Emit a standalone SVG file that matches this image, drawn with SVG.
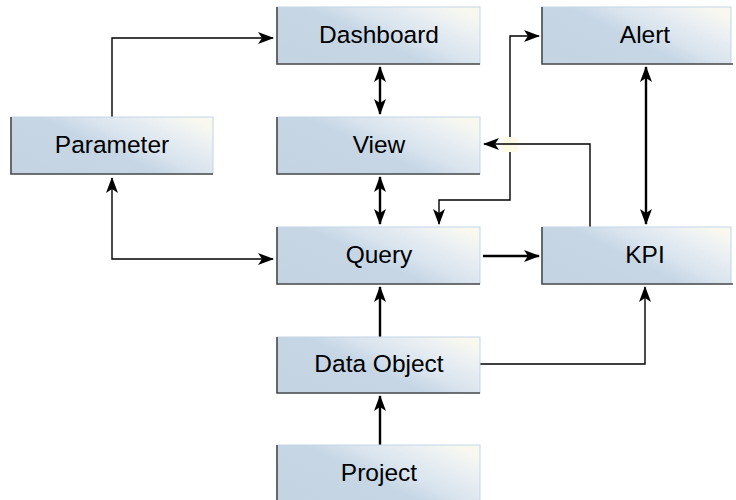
<svg xmlns="http://www.w3.org/2000/svg" width="736" height="500" viewBox="0 0 736 500">
<defs>
<linearGradient id="g" x1="0" y1="0.8" x2="1" y2="0.2">
<stop offset="0" stop-color="#c4d4e3"/>
<stop offset="0.45" stop-color="#c6d6e5"/>
<stop offset="0.62" stop-color="#d9e4ee"/>
<stop offset="0.85" stop-color="#ebf0f3"/>
<stop offset="1" stop-color="#f8f8ef"/>
</linearGradient>
<marker id="ah" viewBox="0 0 16 12" refX="15" refY="6" markerWidth="16" markerHeight="12" markerUnits="userSpaceOnUse" orient="auto-start-reverse">
<path d="M0,0 L16,6 L0,12 L4,6 Z" fill="#000"/>
</marker>
</defs>
<style>
.box{fill:url(#g);stroke:#c3d5e7;stroke-width:1}
.sh{fill:none;stroke:#4a4a4a;stroke-width:1.6}
.lbl{font-family:"Liberation Sans",Arial,sans-serif;font-size:24.5px;fill:#000;text-anchor:middle}
.thin{fill:none;stroke:#000;stroke-width:1.4}
.thick{fill:none;stroke:#000;stroke-width:2.4}
</style>
<rect width="736" height="500" fill="#fff"/>

<g id="connectors">
<path class="thin" d="M112,117 V38 H273" marker-end="url(#ah)"/>
<path class="thin" d="M112,178 V259 H273" marker-start="url(#ah)" marker-end="url(#ah)"/>
<path class="thick" d="M380,67 V114" marker-start="url(#ah)" marker-end="url(#ah)"/>
<path class="thick" d="M380,177 V224" marker-start="url(#ah)" marker-end="url(#ah)"/>
<path class="thick" d="M380,337 V287" marker-end="url(#ah)"/>
<path class="thick" d="M380,445 V396" marker-end="url(#ah)"/>
<path class="thick" d="M483,256 H539" marker-end="url(#ah)"/>
<path class="thin" d="M480,364 H645 V287" marker-end="url(#ah)"/>
<path class="thick" d="M646,67 V224" marker-start="url(#ah)" marker-end="url(#ah)"/>
<path class="thin" d="M439,224 V200 H510 V36 H539" marker-start="url(#ah)" marker-end="url(#ah)"/>
<rect x="502" y="137" width="16" height="15" fill="#fdfbe6"/>
<path class="thin" d="M590,227 V144 H484" marker-end="url(#ah)"/>
</g>

<g id="node-parameter">
<rect class="box" x="11" y="117" width="202" height="57"/>
<path class="sh" d="M11,117 V174 H213"/>
<text class="lbl" x="112" y="153">Parameter</text>
</g>
<g id="node-dashboard">
<rect class="box" x="277" y="7" width="203" height="57"/>
<path class="sh" d="M277,7 V64 H480"/>
<text class="lbl" x="379" y="43">Dashboard</text>
</g>
<g id="node-view">
<rect class="box" x="277" y="117" width="203" height="57"/>
<path class="sh" d="M277,117 V174 H480"/>
<text class="lbl" x="379" y="153">View</text>
</g>
<g id="node-alert">
<rect class="box" x="542" y="7" width="189" height="57"/>
<path class="sh" d="M542,7 V64 H733"/>
<text class="lbl" x="645" y="43">Alert</text>
</g>
<g id="node-query">
<rect class="box" x="277" y="227" width="203" height="57"/>
<path class="sh" d="M277,227 V284 H480"/>
<text class="lbl" x="379" y="263">Query</text>
</g>
<g id="node-kpi">
<rect class="box" x="542" y="227" width="189" height="57"/>
<path class="sh" d="M542,227 V284 H733"/>
<text class="lbl" x="645" y="263">KPI</text>
</g>
<g id="node-data-object">
<rect class="box" x="277" y="337" width="203" height="56"/>
<path class="sh" d="M277,337 V393 H480"/>
<text class="lbl" x="379" y="372">Data Object</text>
</g>
<g id="node-project">
<rect class="box" x="277" y="445" width="203" height="60"/>
<path class="sh" d="M277,445 V505"/>
<text class="lbl" x="379" y="481">Project</text>
</g>
</svg>
